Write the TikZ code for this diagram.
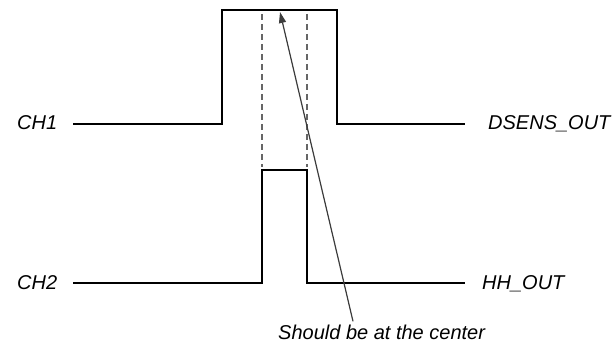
\documentclass[tikz,border=0pt]{standalone}
\usepackage{fontspec}
\setmainfont{Liberation Sans}
\usetikzlibrary{positioning,arrows.meta,calc}
\definecolor{ink}{HTML}{000000}
\definecolor{guidegray}{HTML}{666666}
\definecolor{pointgray}{HTML}{3C3C3C}

\begin{document}
\begin{tikzpicture}[
  x=1pt, y=-1pt,
  font=\itshape\fontsize{20}{24}\selectfont\color{ink},
  signal/.style={line width=2pt, draw=ink},
  guide/.style={line width=1.4pt, draw=guidegray, dash pattern=on 6pt off 4pt},
  pointer/.style={-{Triangle[length=11pt, width=7pt]}, line width=1.2pt, draw=pointgray, fill=pointgray},
  lbl/.style={inner sep=0pt, anchor=base west},
]
\useasboundingbox (0,0) rectangle (614,345);

% ---- CH1 / DSENS_OUT ---------------------------------------------------------
\coordinate (a1) at (73,124);
\coordinate (b1) at (465,124);
\node[lbl] (ch1) at (17,130) {CH1};
\node[lbl] (dsens) at (488,130) {DSENS\_OUT};
\draw[signal] (a1) -- (222,124) -- (222,10.5) -- (337,10.5) -- (337,124) -- (b1);

% ---- CH2 / HH_OUT ------------------------------------------------------------
\coordinate (a2) at (73,283);
\coordinate (b2) at (465,283);
\node[lbl] (ch2) at (17,289) {CH2};
\node[lbl] (hh) at (482,289) {HH\_OUT};
\draw[signal] (a2) -- (262,283) -- (262,170) -- (307,170) -- (307,283) -- (b2);

% ---- Centre guides -----------------------------------------------------------
\draw[guide] (262,14) -- (262,167);
\draw[guide] (307,14) -- (307,167);

% ---- Note --------------------------------------------------------------------
\node[lbl, inner sep=3pt] (note) at (275,339) {Should be at the center};
\coordinate (mid) at (280,12);
\draw[pointer] ($(note.north west)+(78,0)$) -- (mid);

\end{tikzpicture}
\end{document}
